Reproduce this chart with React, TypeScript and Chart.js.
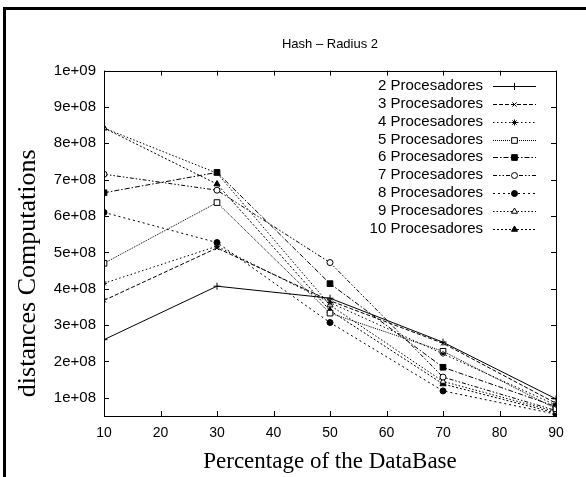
import React, { useEffect, useRef } from 'react';
import { Chart, registerables } from 'chart.js';
import { drawPoint } from 'chart.js/helpers';

Chart.register(...registerables);

const chartTitle = 'Hash \u2013 Radius 2';
const xAxisTitle = 'Percentage of the DataBase';
const yAxisTitle = 'distances Computations';

const xValues = [10, 30, 50, 70, 90];
const xTicks = [10, 20, 30, 40, 50, 60, 70, 80, 90];
const yTicks = [1e8, 2e8, 3e8, 4e8, 5e8, 6e8, 7e8, 8e8, 9e8, 1e9];

const seriesLabels = [
  '2 Procesadores',
  '3 Procesadores',
  '4 Procesadores',
  '5 Procesadores',
  '6 Procesadores',
  '7 Procesadores',
  '8 Procesadores',
  '9 Procesadores',
  '10 Procesadores',
];

const p2 = [2.6e8, 4.07e8, 3.74e8, 2.53e8, 0.97e8];
const p3 = [3.68e8, 5.12e8, 3.67e8, 2.5e8, 0.85e8];
const p4 = [4.15e8, 5.17e8, 3.62e8, 2.21e8, 0.8e8];
const p5 = [4.7e8, 6.37e8, 3.33e8, 2.28e8, 0.7e8];
const p6 = [6.64e8, 7.2e8, 4.14e8, 1.84e8, 0.76e8];
const p7 = [7.15e8, 6.71e8, 4.72e8, 1.57e8, 0.65e8];
const p8 = [6.1e8, 5.27e8, 3.07e8, 1.19e8, 0.55e8];
const p9 = [8.42e8, 7.18e8, 3.55e8, 1.45e8, 0.62e8];
const p10 = [8.42e8, 6.88e8, 3.4e8, 1.38e8, 0.58e8];

const seriesValues = [p2, p3, p4, p5, p6, p7, p8, p9, p10];

type Style = { dash: number[]; point: string; filled: boolean; radius: number };
const seriesStyles: Style[] = [
  { dash: [], point: 'cross', filled: false, radius: 3.5 },
  { dash: [4, 2], point: 'crossRot', filled: false, radius: 3 },
  { dash: [1.5, 2.5], point: 'star', filled: false, radius: 3 },
  { dash: [1, 1], point: 'rect', filled: false, radius: 4 },
  { dash: [5, 2, 1.5, 2], point: 'rect', filled: true, radius: 4 },
  { dash: [4, 2, 1.5, 2, 1.5, 2], point: 'circle', filled: false, radius: 3 },
  { dash: [2, 3], point: 'circle', filled: true, radius: 3 },
  { dash: [1.5, 2], point: 'triangle', filled: false, radius: 3.5 },
  { dash: [2, 2], point: 'triangle', filled: true, radius: 3.5 },
];

const sansFont = "'Liberation Sans', Arial, Helvetica, sans-serif";
const serifFont = "'Liberation Serif', 'Times New Roman', serif";

function formatExp(v: number): string {
  const exp = Math.floor(Math.log10(v) + 1e-9);
  const mant = Math.round(v / Math.pow(10, exp));
  return `${mant}e+${String(exp).padStart(2, '0')}`;
}

const decorPlugin = {
  id: 'decor',
  beforeDraw(chart: any) {
    const ctx = chart.ctx;
    ctx.save();
    ctx.fillStyle = '#ffffff';
    ctx.fillRect(0, 0, chart.width, chart.height);
    ctx.strokeStyle = '#000000';
    ctx.lineWidth = 3;
    ctx.beginPath();
    ctx.moveTo(4.5, chart.height + 5);
    ctx.lineTo(4.5, 8.5);
    ctx.lineTo(chart.width + 5, 8.5);
    ctx.stroke();
    ctx.restore();
  },
  afterDraw(chart: any) {
    const ctx = chart.ctx;
    const area = chart.chartArea;
    const xs = chart.scales.x;
    const ys = chart.scales.y;
    const tl = 5;
    ctx.save();
    ctx.strokeStyle = '#000000';
    ctx.lineWidth = 1;
    ctx.setLineDash([]);
    ctx.strokeRect(Math.round(area.left) + 0.5, Math.round(area.top) + 0.5,
      Math.round(area.right - area.left), Math.round(area.bottom - area.top));
    ctx.beginPath();
    xs.ticks.forEach((t: any) => {
      const px = Math.round(xs.getPixelForValue(t.value)) + 0.5;
      ctx.moveTo(px, area.bottom);
      ctx.lineTo(px, area.bottom - tl);
      ctx.moveTo(px, area.top);
      ctx.lineTo(px, area.top + tl);
    });
    ys.ticks.forEach((t: any) => {
      const py = Math.round(ys.getPixelForValue(t.value)) + 0.5;
      ctx.moveTo(area.left, py);
      ctx.lineTo(area.left + tl, py);
      ctx.moveTo(area.right, py);
      ctx.lineTo(area.right - tl, py);
    });
    ctx.stroke();

    // y axis title (gnuplot places it a little below the plot centre)
    ctx.save();
    ctx.translate(35, (area.top + area.bottom) / 2 + 30);
    ctx.rotate(-Math.PI / 2);
    ctx.font = `26px ${serifFont}`;
    ctx.fillStyle = '#000000';
    ctx.textAlign = 'center';
    ctx.textBaseline = 'alphabetic';
    ctx.fillText(yAxisTitle, 0, 0);
    ctx.restore();

    // legend (inside plot, top right)
    const textRight = area.right - 73;
    const lineStart = area.right - 63;
    const lineEnd = area.right - 20;
    const rowTop = area.top + 15.5;
    const rowStep = 17.8;
    ctx.font = `15px ${sansFont}`;
    ctx.textAlign = 'right';
    ctx.textBaseline = 'middle';
    chart.data.datasets.forEach((ds: any, i: number) => {
      const y = rowTop + i * rowStep;
      ctx.fillStyle = '#000000';
      ctx.fillText(ds.label, textRight, y);
      ctx.beginPath();
      ctx.setLineDash(ds.borderDash || []);
      ctx.lineWidth = 1;
      ctx.strokeStyle = '#000000';
      ctx.moveTo(lineStart, Math.round(y) + 0.5);
      ctx.lineTo(lineEnd, Math.round(y) + 0.5);
      ctx.stroke();
      ctx.setLineDash([]);
      ctx.fillStyle = ds.pointBackgroundColor;
      ctx.strokeStyle = '#000000';
      ctx.lineWidth = 1;
      drawPoint(ctx, { pointStyle: ds.pointStyle, radius: ds.pointRadius, rotation: 0, borderWidth: 1 },
        (lineStart + lineEnd) / 2, Math.round(y) + 0.5);
    });
    ctx.restore();
  },
};

export default function App() {
  const canvasRef = useRef<HTMLCanvasElement | null>(null);

  useEffect(() => {
    if (!canvasRef.current) return;
    const datasets = seriesValues.map((vals, i) => {
      const st = seriesStyles[i];
      return {
        label: seriesLabels[i],
        data: vals.map((v, j) => ({ x: xValues[j], y: v })),
        borderColor: '#000000',
        borderWidth: 1,
        borderDash: st.dash,
        pointStyle: st.point,
        pointRadius: st.radius,
        pointBorderWidth: 1,
        pointBorderColor: '#000000',
        pointBackgroundColor: st.filled ? '#000000' : '#ffffff',
        fill: false,
        tension: 0,
      };
    });

    const chart = new Chart(canvasRef.current, {
      type: 'line',
      data: { datasets },
      plugins: [decorPlugin],
      options: {
        animation: false,
        responsive: false,
        devicePixelRatio: 1,
        layout: { padding: { left: 0, right: 30, top: 0, bottom: 0 } },
        plugins: {
          legend: { display: false },
          tooltip: { enabled: false },
          title: {
            display: true,
            text: chartTitle,
            fullSize: false,
            color: '#000000',
            font: { family: sansFont, size: 13, weight: 'normal' },
            padding: { top: 37, bottom: 18 },
          },
        },
        scales: {
          x: {
            type: 'linear',
            min: 10,
            max: 90,
            grid: { display: false, drawTicks: false },
            border: { display: false },
            afterBuildTicks: (scale: any) => {
              scale.ticks = xTicks.map((value) => ({ value }));
            },
            afterFit: (scale: any) => {
              scale.height = 61;
            },
            ticks: {
              color: '#000000',
              font: { family: sansFont, size: 14 },
              padding: 9,
              maxRotation: 0,
              autoSkip: false,
            },
            title: {
              display: true,
              text: xAxisTitle,
              color: '#000000',
              font: { family: serifFont, size: 23 },
              padding: { top: 0, bottom: 1 },
            },
          },
          y: {
            type: 'linear',
            min: 0.5e8,
            max: 1e9,
            grid: { display: false, drawTicks: false },
            border: { display: false },
            afterBuildTicks: (scale: any) => {
              scale.ticks = yTicks.map((value) => ({ value }));
            },
            afterFit: (scale: any) => {
              scale.width = 104;
            },
            ticks: {
              color: '#000000',
              font: { family: sansFont, size: 15 },
              padding: 8,
              autoSkip: false,
              callback: (v: any) => formatExp(Number(v)),
            },
            title: { display: false },
          },
        },
      } as any,
    });
    return () => chart.destroy();
  }, []);

  return (
    <div style={{ position: 'fixed', left: 0, top: 0, width: 586, height: 477, background: '#ffffff' }}>
      <canvas ref={canvasRef} width={586} height={477} style={{ display: 'block', width: 586, height: 477 }} />
    </div>
  );
}
